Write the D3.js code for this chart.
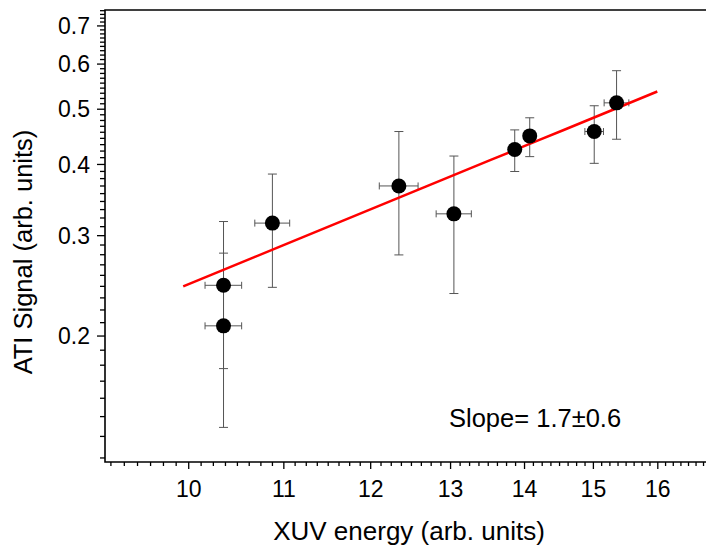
<!DOCTYPE html>
<html>
<head>
<meta charset="utf-8">
<script src="https://cdn.jsdelivr.net/npm/d3@7"></script>
<style>
  body { margin: 0; background: #fff; }
  text { font-family: "Liberation Sans", Arial, sans-serif; fill: #000; }
</style>
</head>
<body>
<div id="chart"></div>
<script>
const W = 706, H = 550;

// data
const energy    = [10.36, 10.36, 10.88, 12.35, 13.05, 13.87, 14.08, 15.02, 15.36];
const energyErr = [0.19, 0.19, 0.19, 0.24, 0.23, 0.05, 0.05, 0.14, 0.19];
const signal    = [0.245, 0.208, 0.315, 0.366, 0.327, 0.424, 0.448, 0.456, 0.512];
const signalLo  = [0.175, 0.138, 0.243, 0.277, 0.237, 0.388, 0.412, 0.401, 0.442];
const signalHi  = [0.279, 0.317, 0.384, 0.456, 0.413, 0.459, 0.482, 0.506, 0.583];

// fitted power law (end points of the red line)
const fitEnergy = [9.95, 16.0];
const fitSignal = [0.244, 0.536];

const xTicks = [10, 11, 12, 13, 14, 15, 16];
const xTickLabels = ["10", "11", "12", "13", "14", "15", "16"];
const yTicks = [0.2, 0.3, 0.4, 0.5, 0.6, 0.7];
const yTickLabels = ["0.2", "0.3", "0.4", "0.5", "0.6", "0.7"];

const xTitle = "XUV energy (arb. units)";
const yTitle = "ATI Signal (arb. units)";
const slopeText = "Slope= 1.7\u00B10.6";

const m = { left: 105, top: 10, right: 706, bottom: 462 };

const svg = d3.select("#chart").append("svg")
    .attr("width", W)
    .attr("height", H);

const x = d3.scaleLog().domain([9.2, 16.8]).range([m.left, m.right]);
const y = d3.scaleLog().domain([0.12, 0.745]).range([m.bottom, m.top]);

// minor ticks: 7 between x majors, 8 between y majors
const xMinor = d3.range(9.25, 16.8, 0.125).filter(v => Math.abs(v - Math.round(v)) > 1e-6);
const yMinor = [];
[0.1, 0.2, 0.3, 0.4, 0.5, 0.6, 0.7].forEach(a => {
    d3.range(1, 9).forEach(k => {
        const v = a + k * 0.1 / 9;
        if (v > 0.12 && v < 0.745) yMinor.push(v);
    });
});

// x axis
const xAxis = svg.append("g").attr("transform", `translate(0,${m.bottom})`);
xAxis.call(d3.axisBottom(x).tickValues(xMinor).tickSize(4).tickFormat(""))
    .call(g => g.select(".domain").remove());
xAxis.append("g")
    .call(d3.axisBottom(x).tickValues(xTicks).tickSize(7).tickFormat((d, i) => xTickLabels[i]))
    .call(g => g.select(".domain").remove())
    .call(g => g.selectAll("text").attr("font-size", 23).attr("dy", null).attr("y", 35)
        .style("font-family", "Liberation Sans, Arial, sans-serif").attr("fill", "#000"));
xAxis.selectAll("line").attr("stroke", "#000").attr("stroke-width", 1.3);

// y axis
const yAxis = svg.append("g").attr("transform", `translate(${m.left},0)`);
yAxis.call(d3.axisLeft(y).tickValues(yMinor).tickSize(5).tickFormat(""))
    .call(g => g.select(".domain").remove());
yAxis.append("g")
    .call(d3.axisLeft(y).tickValues(yTicks).tickSize(8).tickFormat((d, i) => yTickLabels[i]))
    .call(g => g.select(".domain").remove())
    .call(g => g.selectAll("text").attr("font-size", 23).attr("x", -15).attr("dy", "0.35em")
        .style("font-family", "Liberation Sans, Arial, sans-serif").attr("fill", "#000"));
yAxis.selectAll("line").attr("stroke", "#000").attr("stroke-width", 1.3);

// frame (left, bottom, top; the right side runs off the picture)
svg.append("path")
    .attr("d", `M${m.right + 5},${m.top}H${m.left}V${m.bottom}H${m.right + 5}`)
    .attr("fill", "none")
    .attr("stroke", "#000")
    .attr("stroke-width", 1.6);

const pts = energy.map((e, i) => ({
    e: e, de: energyErr[i], s: signal[i], lo: signalLo[i], hi: signalHi[i]
}));

// error bars
const eb = svg.append("g").attr("stroke", "#555").attr("stroke-width", 1).attr("fill", "none");
pts.forEach(d => {
    const cx = x(d.e), cy = y(d.s);
    eb.append("line").attr("x1", cx).attr("x2", cx).attr("y1", y(d.hi)).attr("y2", y(d.lo));
    eb.append("line").attr("x1", cx - 4.5).attr("x2", cx + 4.5).attr("y1", y(d.hi)).attr("y2", y(d.hi));
    eb.append("line").attr("x1", cx - 4.5).attr("x2", cx + 4.5).attr("y1", y(d.lo)).attr("y2", y(d.lo));
    eb.append("line").attr("x1", x(d.e - d.de)).attr("x2", x(d.e + d.de)).attr("y1", cy).attr("y2", cy);
    eb.append("line").attr("x1", x(d.e - d.de)).attr("x2", x(d.e - d.de)).attr("y1", cy - 3.5).attr("y2", cy + 3.5);
    eb.append("line").attr("x1", x(d.e + d.de)).attr("x2", x(d.e + d.de)).attr("y1", cy - 3.5).attr("y2", cy + 3.5);
});

// fit line
const slope = Math.log(fitSignal[1] / fitSignal[0]) / Math.log(fitEnergy[1] / fitEnergy[0]);
const fitPts = d3.range(0, 21).map(k => {
    const e = fitEnergy[0] * Math.pow(fitEnergy[1] / fitEnergy[0], k / 20);
    return [e, fitSignal[0] * Math.pow(e / fitEnergy[0], slope)];
});
svg.append("path")
    .datum(fitPts)
    .attr("d", d3.line().x(d => x(d[0])).y(d => y(d[1])))
    .attr("fill", "none")
    .attr("stroke", "#f00")
    .attr("stroke-width", 2.5);

// markers
svg.append("g").selectAll("circle")
    .data(pts)
    .enter()
    .append("circle")
    .attr("cx", d => x(d.e))
    .attr("cy", d => y(d.s))
    .attr("r", 7.5)
    .attr("fill", "#000");

// texts
svg.append("text")
    .attr("x", 449)
    .attr("y", 427)
    .attr("font-size", 25.5)
    .text(slopeText);

svg.append("text")
    .attr("x", 409)
    .attr("y", 540)
    .attr("text-anchor", "middle")
    .attr("font-size", 26)
    .text(xTitle);

svg.append("text")
    .attr("transform", `translate(32,${(m.top + m.bottom) / 2 + 16}) rotate(-90)`)
    .attr("text-anchor", "middle")
    .attr("font-size", 25.5)
    .text(yTitle);
</script>
</body>
</html>
